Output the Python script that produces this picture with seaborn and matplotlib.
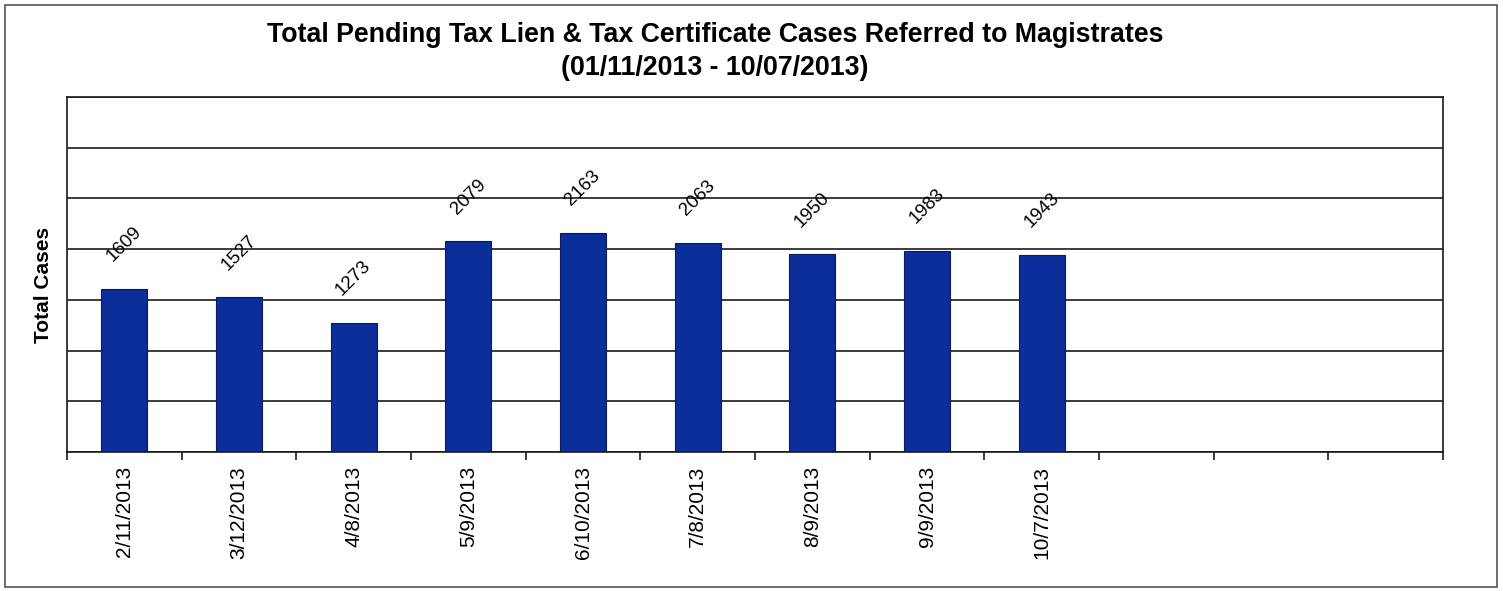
import numpy as np
import seaborn as sns
import matplotlib.pyplot as plt
from matplotlib.patches import Rectangle

# data
dates = ["2/11/2013", "3/12/2013", "4/8/2013", "5/9/2013", "6/10/2013",
         "7/8/2013", "8/9/2013", "9/9/2013", "10/7/2013"]
cases = [1609, 1527, 1273, 2079, 2163, 2063, 1950, 1983, 1943]
n_slots = 12          # chart reserves 12 category slots, last 3 empty
y_max = 3500
y_step = 500

sns.set_theme(style="white", rc={"text.color": "black", "axes.labelcolor": "black",
                                 "xtick.color": "black", "ytick.color": "black"})
plt.rcParams['font.family'] = ['Liberation Sans', 'DejaVu Sans']

fig = plt.figure(figsize=(15.03, 5.91), dpi=100)
ax = fig.add_axes([67 / 1503, 1 - 452 / 591, (1443 - 67) / 1503, (452 - 97) / 591])

bar_color = "#0b2e9a"
sns.barplot(x=dates, y=cases, color=bar_color, saturation=1, width=0.4,
            edgecolor="#0a1a5c", linewidth=0.8, ax=ax)

ax.set_xlim(-0.5, n_slots - 0.5)
ax.set_ylim(0, y_max)

# horizontal gridlines, no y labels
ax.set_yticks(np.arange(0, y_max + 1, y_step))
ax.set_yticklabels([])
ax.tick_params(axis='y', length=0)
ax.yaxis.grid(True, color="#1a1a1a", linewidth=1.2)
ax.set_axisbelow(True)

# category labels at centres, tick marks at boundaries
ax.set_xticks(range(len(dates)))
ax.set_xticklabels(dates, rotation=90, fontsize=15)
ax.set_xticks(np.arange(-0.5, n_slots, 1), minor=True)
ax.tick_params(axis='x', which='major', length=0, pad=10)
ax.tick_params(axis='x', which='minor', length=6, width=1.2, color="#1a1a1a",
               direction='out', bottom=True)

for side in ['left', 'right', 'top', 'bottom']:
    ax.spines[side].set_visible(True)
    ax.spines[side].set_color("#1a1a1a")
    ax.spines[side].set_linewidth(1.2)

# value labels above bars
for i, v in enumerate(cases):
    ax.annotate(str(v), (i, v), xytext=(0, 32), textcoords='offset points',
                rotation=45, rotation_mode='anchor', ha='center', va='center',
                fontsize=13.5)

ax.set_xlabel("")
ax.set_ylabel("Total Cases", fontsize=15, fontweight='bold')
ax.yaxis.set_label_coords(-0.0105, 0.47)

fig.text(715 / 1503, 1 - 35 / 591,
         "Total Pending Tax Lien & Tax Certificate Cases Referred to Magistrates",
         ha='center', va='center', fontsize=19.3, fontweight='bold')
fig.text(715 / 1503, 1 - 68 / 591, "(01/11/2013 - 10/07/2013)",
         ha='center', va='center', fontsize=19.3, fontweight='bold')

# outer chart border
fig.patches.append(Rectangle((5 / 1503, 4 / 591), 1492 / 1503, 582 / 591,
                             transform=fig.transFigure, fill=False,
                             edgecolor="#555555", linewidth=1.2))

fig.savefig("out.png", dpi=100)
